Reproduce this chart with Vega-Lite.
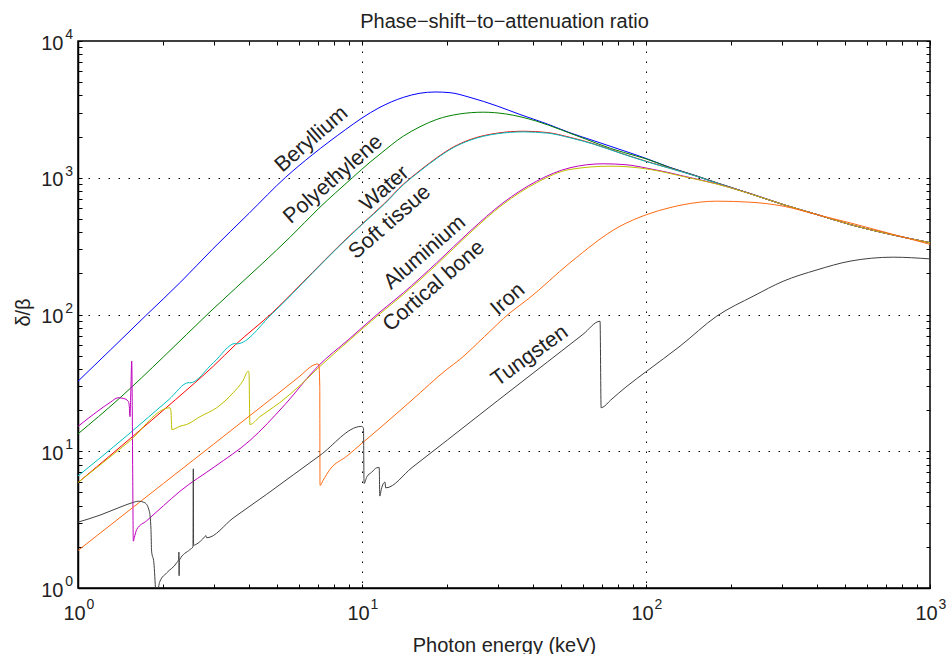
{
  "$schema": "https://vega.github.io/schema/vega-lite/v6.json",
  "width": 852,
  "height": 547,
  "autosize": "none",
  "padding": {"left": 78, "top": 41, "right": 21, "bottom": 66},
  "background": "white",
  "config": {
    "font": "Liberation Sans",
    "view": {"stroke": "#000000", "strokeWidth": 1.5},
    "axis": {"labelFont": "Liberation Sans", "titleFont": "Liberation Sans", "labelColor": "#222222", "titleColor": "#222222", "tickColor": "#000000", "domainColor": "#000000"}
  },
  "datasets": {
    "curves": [
      {"m":"Beryllium","E":1,"v":32.5},{"m":"Beryllium","E":1.3,"v":55},{"m":"Beryllium","E":1.731,"v":98},{"m":"Beryllium","E":2.3,"v":173},{"m":"Beryllium","E":2.971,"v":299},{"m":"Beryllium","E":4,"v":549},{"m":"Beryllium","E":5.386,"v":1009},{"m":"Beryllium","E":6.68,"v":1470},{"m":"Beryllium","E":8.76,"v":2253},{"m":"Beryllium","E":10,"v":2735},{"m":"Beryllium","E":11.48,"v":3247},{"m":"Beryllium","E":13.98,"v":3870},{"m":"Beryllium","E":16,"v":4150},{"m":"Beryllium","E":18.07,"v":4238},{"m":"Beryllium","E":20.4,"v":4190},{"m":"Beryllium","E":24,"v":3870},{"m":"Beryllium","E":30,"v":3340},{"m":"Beryllium","E":36,"v":2901},{"m":"Beryllium","E":45,"v":2470},{"m":"Beryllium","E":54,"v":2132},{"m":"Beryllium","E":66,"v":1855},{"m":"Beryllium","E":81,"v":1609},{"m":"Beryllium","E":100,"v":1385},{"m":"Beryllium","E":121.5,"v":1190},{"m":"Beryllium","E":150,"v":1035},{"m":"Beryllium","E":177.4,"v":918},{"m":"Beryllium","E":232,"v":767},{"m":"Beryllium","E":304,"v":637},{"m":"Beryllium","E":399,"v":539},{"m":"Beryllium","E":523,"v":455},{"m":"Beryllium","E":685,"v":396},{"m":"Beryllium","E":1000,"v":335},

      {"m":"Polyethylene","E":1,"v":13.4},{"m":"Polyethylene","E":1.394,"v":24.2},{"m":"Polyethylene","E":2,"v":49},{"m":"Polyethylene","E":2.893,"v":102.9},{"m":"Polyethylene","E":4.457,"v":236},{"m":"Polyethylene","E":5.6,"v":370},{"m":"Polyethylene","E":7.06,"v":600},{"m":"Polyethylene","E":9.25,"v":1000},{"m":"Polyethylene","E":10.67,"v":1299},{"m":"Polyethylene","E":11.48,"v":1469},{"m":"Polyethylene","E":13.98,"v":2014},{"m":"Polyethylene","E":16,"v":2360},{"m":"Polyethylene","E":18.33,"v":2670},{"m":"Polyethylene","E":22,"v":2925},{"m":"Polyethylene","E":26.74,"v":3016},{"m":"Polyethylene","E":32,"v":2930},{"m":"Polyethylene","E":41.2,"v":2592},{"m":"Polyethylene","E":50,"v":2250},{"m":"Polyethylene","E":61.8,"v":1905},{"m":"Polyethylene","E":75,"v":1640},{"m":"Polyethylene","E":92.7,"v":1440},{"m":"Polyethylene","E":100,"v":1375},{"m":"Polyethylene","E":121.5,"v":1185},{"m":"Polyethylene","E":150,"v":1033},{"m":"Polyethylene","E":177.4,"v":918},{"m":"Polyethylene","E":232,"v":767},{"m":"Polyethylene","E":304,"v":637},{"m":"Polyethylene","E":399,"v":539},{"m":"Polyethylene","E":523,"v":455},{"m":"Polyethylene","E":685,"v":396},{"m":"Polyethylene","E":1000,"v":335},

      {"m":"Water","E":1,"v":5.9},{"m":"Water","E":1.5,"v":12.0},{"m":"Water","E":2.208,"v":23.9},{"m":"Water","E":3,"v":42},{"m":"Water","E":3.59,"v":60.3},{"m":"Water","E":4.83,"v":102.9},{"m":"Water","E":6.68,"v":202},{"m":"Water","E":8.2,"v":310},{"m":"Water","E":10.02,"v":460},{"m":"Water","E":12,"v":650},{"m":"Water","E":14,"v":900},{"m":"Water","E":16,"v":1130},{"m":"Water","E":18.33,"v":1400},{"m":"Water","E":21,"v":1680},{"m":"Water","E":24,"v":1900},{"m":"Water","E":30,"v":2120},{"m":"Water","E":37,"v":2189},{"m":"Water","E":45,"v":2140},{"m":"Water","E":54,"v":1975},{"m":"Water","E":66,"v":1760},{"m":"Water","E":81,"v":1522},{"m":"Water","E":100,"v":1320},{"m":"Water","E":121.5,"v":1175},{"m":"Water","E":150,"v":1030},{"m":"Water","E":177.4,"v":916},{"m":"Water","E":232,"v":767},{"m":"Water","E":304,"v":637},{"m":"Water","E":399,"v":539},{"m":"Water","E":523,"v":455},{"m":"Water","E":685,"v":396},{"m":"Water","E":1000,"v":335},

      {"m":"Soft tissue","E":1,"v":6.6},{"m":"Soft tissue","E":1.5,"v":13.2},{"m":"Soft tissue","E":2.09,"v":23.9},{"m":"Soft tissue","E":2.46,"v":31.8},{"m":"Soft tissue","E":2.475,"v":31.6},{"m":"Soft tissue","E":3.0,"v":44.5},{"m":"Soft tissue","E":3.59,"v":61.5},{"m":"Soft tissue","E":3.62,"v":61.0},{"m":"Soft tissue","E":4.83,"v":101.5},{"m":"Soft tissue","E":6.68,"v":200},{"m":"Soft tissue","E":8.2,"v":307},{"m":"Soft tissue","E":10.02,"v":456},{"m":"Soft tissue","E":12,"v":642},{"m":"Soft tissue","E":14,"v":890},{"m":"Soft tissue","E":16,"v":1118},{"m":"Soft tissue","E":18.33,"v":1385},{"m":"Soft tissue","E":21,"v":1662},{"m":"Soft tissue","E":24,"v":1880},{"m":"Soft tissue","E":30,"v":2100},{"m":"Soft tissue","E":37,"v":2165},{"m":"Soft tissue","E":45,"v":2120},{"m":"Soft tissue","E":54,"v":1960},{"m":"Soft tissue","E":66,"v":1750},{"m":"Soft tissue","E":81,"v":1515},{"m":"Soft tissue","E":100,"v":1315},{"m":"Soft tissue","E":121.5,"v":1170},{"m":"Soft tissue","E":150,"v":1028},{"m":"Soft tissue","E":177.4,"v":915},{"m":"Soft tissue","E":232,"v":767},{"m":"Soft tissue","E":304,"v":637},{"m":"Soft tissue","E":399,"v":539},{"m":"Soft tissue","E":523,"v":455},{"m":"Soft tissue","E":685,"v":396},{"m":"Soft tissue","E":1000,"v":335},

      {"m":"Aluminium","E":1,"v":15.2},{"m":"Aluminium","E":1.195,"v":20.2},{"m":"Aluminium","E":1.3,"v":22.8},{"m":"Aluminium","E":1.383,"v":24.6},{"m":"Aluminium","E":1.45,"v":24.3},{"m":"Aluminium","E":1.503,"v":23.2},{"m":"Aluminium","E":1.515,"v":21.5},{"m":"Aluminium","E":1.524,"v":17.9},{"m":"Aluminium","E":1.535,"v":28},{"m":"Aluminium","E":1.546,"v":45.6},{"m":"Aluminium","E":1.553,"v":20},{"m":"Aluminium","E":1.559,"v":6},{"m":"Aluminium","E":1.566,"v":2.2},{"m":"Aluminium","E":1.58,"v":2.35},{"m":"Aluminium","E":1.61,"v":2.68},{"m":"Aluminium","E":1.745,"v":3.1},{"m":"Aluminium","E":2.0,"v":4.0},{"m":"Aluminium","E":2.286,"v":5.1},{"m":"Aluminium","E":3.037,"v":7.74},{"m":"Aluminium","E":4.03,"v":11.98},{"m":"Aluminium","E":5.36,"v":22.0},{"m":"Aluminium","E":7.0,"v":41.9},{"m":"Aluminium","E":9,"v":66},{"m":"Aluminium","E":11.48,"v":102.9},{"m":"Aluminium","E":13.98,"v":144},{"m":"Aluminium","E":18.33,"v":239},{"m":"Aluminium","E":24,"v":406},{"m":"Aluminium","E":31.4,"v":656},{"m":"Aluminium","E":41.2,"v":944},{"m":"Aluminium","E":54,"v":1183},{"m":"Aluminium","E":70.7,"v":1265},{"m":"Aluminium","E":85,"v":1245},{"m":"Aluminium","E":103.3,"v":1163},{"m":"Aluminium","E":121.5,"v":1085},{"m":"Aluminium","E":135,"v":1030},{"m":"Aluminium","E":177.4,"v":903},{"m":"Aluminium","E":232,"v":767},{"m":"Aluminium","E":304,"v":637},{"m":"Aluminium","E":399,"v":539},{"m":"Aluminium","E":523,"v":455},{"m":"Aluminium","E":685,"v":396},{"m":"Aluminium","E":1000,"v":335},

      {"m":"Cortical bone","E":1,"v":5.9},{"m":"Cortical bone","E":1.5,"v":11.6},{"m":"Cortical bone","E":2.109,"v":20.8},{"m":"Cortical bone","E":2.125,"v":19.5},{"m":"Cortical bone","E":2.14,"v":14.4},{"m":"Cortical bone","E":2.286,"v":15.25},{"m":"Cortical bone","E":2.414,"v":15.7},{"m":"Cortical bone","E":2.689,"v":17.9},{"m":"Cortical bone","E":3.077,"v":20.8},{"m":"Cortical bone","E":3.52,"v":26.8},{"m":"Cortical bone","E":3.8,"v":32.5},{"m":"Cortical bone","E":3.98,"v":38.5},{"m":"Cortical bone","E":4.0,"v":37.5},{"m":"Cortical bone","E":4.03,"v":15.7},{"m":"Cortical bone","E":4.37,"v":17.9},{"m":"Cortical bone","E":5.14,"v":22.7},{"m":"Cortical bone","E":6.05,"v":30.3},{"m":"Cortical bone","E":7.0,"v":40.5},{"m":"Cortical bone","E":9,"v":64.5},{"m":"Cortical bone","E":11.48,"v":100},{"m":"Cortical bone","E":13.98,"v":140},{"m":"Cortical bone","E":18.33,"v":232},{"m":"Cortical bone","E":24,"v":395},{"m":"Cortical bone","E":31.4,"v":640},{"m":"Cortical bone","E":41.2,"v":920},{"m":"Cortical bone","E":54,"v":1150},{"m":"Cortical bone","E":74.7,"v":1215},{"m":"Cortical bone","E":85,"v":1205},{"m":"Cortical bone","E":103.3,"v":1150},{"m":"Cortical bone","E":121.5,"v":1075},{"m":"Cortical bone","E":135,"v":1022},{"m":"Cortical bone","E":177.4,"v":900},{"m":"Cortical bone","E":232,"v":765},{"m":"Cortical bone","E":304,"v":637},{"m":"Cortical bone","E":399,"v":539},{"m":"Cortical bone","E":523,"v":455},{"m":"Cortical bone","E":685,"v":396},{"m":"Cortical bone","E":1000,"v":335},

      {"m":"Iron","E":1,"v":1.88},{"m":"Iron","E":1.5,"v":3.64},{"m":"Iron","E":2,"v":5.82},{"m":"Iron","E":3,"v":11.25},{"m":"Iron","E":4,"v":18.0},{"m":"Iron","E":5,"v":25.9},{"m":"Iron","E":6,"v":35.0},{"m":"Iron","E":6.83,"v":43.1},{"m":"Iron","E":6.95,"v":43.5},{"m":"Iron","E":7.05,"v":42.8},{"m":"Iron","E":7.1,"v":30},{"m":"Iron","E":7.115,"v":5.62},{"m":"Iron","E":7.3,"v":6.15},{"m":"Iron","E":7.71,"v":7.36},{"m":"Iron","E":8.84,"v":9.2},{"m":"Iron","E":10,"v":11.45},{"m":"Iron","E":11.57,"v":14.8},{"m":"Iron","E":15,"v":23.7},{"m":"Iron","E":19.87,"v":39.6},{"m":"Iron","E":22.1,"v":46.9},{"m":"Iron","E":27,"v":69},{"m":"Iron","E":33.2,"v":102.9},{"m":"Iron","E":38.5,"v":130},{"m":"Iron","E":54,"v":239},{"m":"Iron","E":81,"v":442},{"m":"Iron","E":100.6,"v":538},{"m":"Iron","E":121.5,"v":605},{"m":"Iron","E":135,"v":635},{"m":"Iron","E":177.4,"v":674},{"m":"Iron","E":232,"v":663},{"m":"Iron","E":304,"v":620},{"m":"Iron","E":399,"v":538},{"m":"Iron","E":523,"v":468},{"m":"Iron","E":700,"v":398},{"m":"Iron","E":1000,"v":326},

      {"m":"Tungsten","E":1,"v":3.03},{"m":"Tungsten","E":1.195,"v":3.41},{"m":"Tungsten","E":1.406,"v":3.9},{"m":"Tungsten","E":1.55,"v":4.2},{"m":"Tungsten","E":1.631,"v":4.31},{"m":"Tungsten","E":1.72,"v":4.2},{"m":"Tungsten","E":1.783,"v":3.64},{"m":"Tungsten","E":1.807,"v":2.68},{"m":"Tungsten","E":1.816,"v":1.86},{"m":"Tungsten","E":1.85,"v":1.53},{"m":"Tungsten","E":1.877,"v":0.95},{"m":"Tungsten","E":1.89,"v":0.8},{"m":"Tungsten","E":1.905,"v":0.85},{"m":"Tungsten","E":1.92,"v":1.0},{"m":"Tungsten","E":1.944,"v":1.12},{"m":"Tungsten","E":2.053,"v":1.29},{"m":"Tungsten","E":2.226,"v":1.53},{"m":"Tungsten","E":2.262,"v":1.62},{"m":"Tungsten","E":2.266,"v":1.83},{"m":"Tungsten","E":2.27,"v":1.23},{"m":"Tungsten","E":2.275,"v":1.6},{"m":"Tungsten","E":2.479,"v":1.91},{"m":"Tungsten","E":2.54,"v":2.0},{"m":"Tungsten","E":2.547,"v":7.44},{"m":"Tungsten","E":2.553,"v":2.05},{"m":"Tungsten","E":2.6,"v":2.08},{"m":"Tungsten","E":2.8,"v":2.38},{"m":"Tungsten","E":2.82,"v":2.42},{"m":"Tungsten","E":2.84,"v":2.33},{"m":"Tungsten","E":3.52,"v":3.25},{"m":"Tungsten","E":4.62,"v":4.85},{"m":"Tungsten","E":7.1,"v":9.3},{"m":"Tungsten","E":9.95,"v":15.2},{"m":"Tungsten","E":10.12,"v":14.8},{"m":"Tungsten","E":10.17,"v":5.81},{"m":"Tungsten","E":10.4,"v":6.5},{"m":"Tungsten","E":10.8,"v":7.0},{"m":"Tungsten","E":11.27,"v":7.57},{"m":"Tungsten","E":11.5,"v":7.6},{"m":"Tungsten","E":11.55,"v":4.7},{"m":"Tungsten","E":11.7,"v":5.3},{"m":"Tungsten","E":12.05,"v":5.94},{"m":"Tungsten","E":12.12,"v":5.4},{"m":"Tungsten","E":15,"v":7.6},{"m":"Tungsten","E":20,"v":12.1},{"m":"Tungsten","E":30,"v":23.4},{"m":"Tungsten","E":45,"v":45},{"m":"Tungsten","E":60,"v":71.6},{"m":"Tungsten","E":68.9,"v":89.3},{"m":"Tungsten","E":69.5,"v":20.8},{"m":"Tungsten","E":70.5,"v":21.0},{"m":"Tungsten","E":75,"v":23.6},{"m":"Tungsten","E":85,"v":29.5},{"m":"Tungsten","E":100.6,"v":38.5},{"m":"Tungsten","E":131.8,"v":58.7},{"m":"Tungsten","E":177.4,"v":97.2},{"m":"Tungsten","E":240,"v":137},{"m":"Tungsten","E":304,"v":175},{"m":"Tungsten","E":400,"v":212},{"m":"Tungsten","E":523,"v":245.5},{"m":"Tungsten","E":743,"v":262.5},{"m":"Tungsten","E":1000,"v":255}
    ],
    "labels": [
      {"t":"Beryllium","E":6.65,"v":1904},
      {"t":"Polyethylene","E":7.93,"v":971},
      {"t":"Water","E":12.05,"v":830},
      {"t":"Soft tissue","E":12.55,"v":473},
      {"t":"Aluminium","E":16.67,"v":283},
      {"t":"Cortical bone","E":17.93,"v":161},
      {"t":"Iron","E":32.7,"v":128.8},
      {"t":"Tungsten","E":39.0,"v":49.6}
    ]
  },
  "layer": [
    {
      "data": {"name": "curves"},
      "mark": {"type": "line", "strokeWidth": 1, "clip": true, "interpolate": "monotone"},
      "encoding": {
        "x": {"field": "E", "type": "quantitative",
          "scale": {"type": "log", "domain": [1, 1000], "nice": false},
          "axis": {"orient": "bottom",
            "values": [1,2,3,4,5,6,7,8,9,10,20,30,40,50,60,70,80,90,100,200,300,400,500,600,700,800,900,1000],
            "tickSize": -4, "tickWidth": 1, "domainWidth": 1.5,
            "labelExpr": "(datum.value==1||datum.value==10||datum.value==100||datum.value==1000)?'10':''",
            "labelFontSize": 20, "labelAlign": "center", "labelBaseline": "alphabetic", "labelPadding": 35, "labelOffset": -4,
            "labelFlush": false, "labelOverlap": false,
            "grid": true, "gridColor": "#000000", "gridDash": [1.5, 8.5], "gridWidth": 1,
            "gridOpacity": {"condition": {"test": "datum.value==10||datum.value==100", "value": 1}, "value": 0},
            "title": "Photon energy (keV)", "titleFontSize": 20, "titleFontWeight": "normal", "titleBaseline": "alphabetic", "titleY": 63}},
        "y": {"field": "v", "type": "quantitative",
          "scale": {"type": "log", "domain": [1, 10000], "nice": false},
          "axis": {"orient": "left",
            "values": [1,2,3,4,5,6,7,8,9,10,20,30,40,50,60,70,80,90,100,200,300,400,500,600,700,800,900,1000,2000,3000,4000,5000,6000,7000,8000,9000,10000],
            "tickSize": -4, "tickWidth": 1, "domainWidth": 1.5,
            "labelExpr": "(datum.value==1||datum.value==10||datum.value==100||datum.value==1000||datum.value==10000)?'10':''",
            "labelFontSize": 20, "labelAlign": "right", "labelBaseline": "middle", "labelPadding": 19, "labelOffset": 2,
            "labelOverlap": false, "labelFlush": false,
            "grid": true, "gridColor": "#000000", "gridDash": [1.5, 8.5], "gridWidth": 1,
            "gridOpacity": {"condition": {"test": "datum.value==10||datum.value==100||datum.value==1000", "value": 1}, "value": 0},
            "title": "δ/β", "titleFontSize": 20, "titleFontWeight": "normal", "titleAngle": -90, "titleAlign": "center", "titleBaseline": "alphabetic", "titleX": -49, "titleY": 271}},
        "color": {"field": "m", "type": "nominal",
          "scale": {"domain": ["Beryllium","Polyethylene","Water","Soft tissue","Aluminium","Cortical bone","Iron","Tungsten"],
                    "range": ["#0000ff","#008000","#ff0000","#00bfbf","#bf00bf","#bfbf00","#ff6a13","#404040"]},
          "legend": null}
      }
    },
    {
      "data": {"name": "labels"},
      "transform": [{"filter": "datum.t != 'Tungsten'"}],
      "mark": {"type": "text", "angle": -41, "font": "Liberation Sans", "fontSize": 21.5, "color": "#222222", "align": "center", "baseline": "middle"},
      "encoding": {
        "x": {"field": "E", "type": "quantitative",
          "axis": {"orient": "bottom", "values": [1,10,100,1000], "ticks": false, "domain": false, "grid": false,
            "labelExpr": "format(round(log(datum.value)/LN10),'d')",
            "labelFontSize": 14, "labelAlign": "left", "labelBaseline": "alphabetic", "labelPadding": 20, "labelOffset": 8,
            "labelFlush": false, "labelOverlap": false, "title": null}},
        "y": {"field": "v", "type": "quantitative",
          "axis": {"orient": "left", "values": [1,10,100,1000,10000], "ticks": false, "domain": false, "grid": false,
            "labelExpr": "format(round(log(datum.value)/LN10),'d')",
            "labelFontSize": 14, "labelAlign": "right", "labelBaseline": "middle", "labelPadding": 5.5, "labelOffset": -6.5,
            "labelFlush": false, "labelOverlap": false, "title": null}},
        "text": {"field": "t", "type": "nominal"}
      }
    },
    {
      "data": {"name": "labels"},
      "transform": [{"filter": "datum.t == 'Tungsten'"}],
      "mark": {"type": "text", "angle": -36, "font": "Liberation Sans", "fontSize": 21.5, "color": "#222222", "align": "center", "baseline": "middle"},
      "encoding": {
        "x": {"field": "E", "type": "quantitative",
          "axis": {"orient": "top",
            "values": [1,2,3,4,5,6,7,8,9,10,20,30,40,50,60,70,80,90,100,200,300,400,500,600,700,800,900,1000],
            "tickSize": -4, "tickWidth": 1, "labels": false, "domain": false, "grid": false,
            "title": "Phase−shift−to−attenuation ratio", "titleFontSize": 20, "titleFontWeight": "normal", "titleBaseline": "alphabetic", "titleY": -13.5}},
        "y": {"field": "v", "type": "quantitative",
          "axis": {"orient": "right",
            "values": [1,2,3,4,5,6,7,8,9,10,20,30,40,50,60,70,80,90,100,200,300,400,500,600,700,800,900,1000,2000,3000,4000,5000,6000,7000,8000,9000,10000],
            "tickSize": -4, "tickWidth": 1, "labels": false, "domain": false, "grid": false, "title": null}},
        "text": {"field": "t", "type": "nominal"}
      }
    }
  ],
  "resolve": {"axis": {"x": "independent", "y": "independent"}}
}
